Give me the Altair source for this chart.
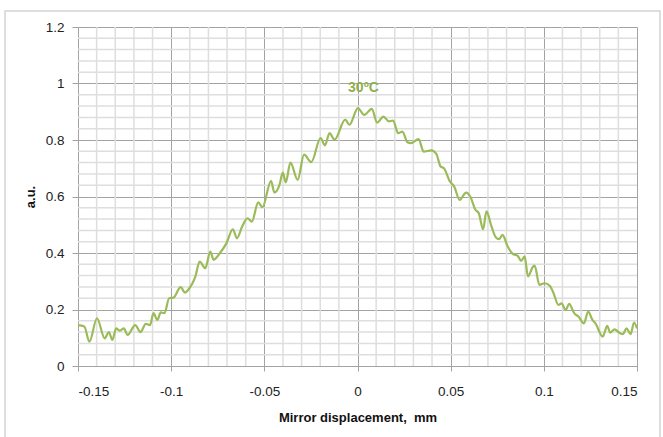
import altair as alt
import pandas as pd

# Interferogram envelope: detector signal vs. mirror displacement
displacement_mm = [
    -0.1500, -0.1466, -0.1439, -0.1398, -0.1357, -0.1334, -0.1316, -0.1295,
    -0.1277, -0.1254, -0.1234, -0.1193, -0.1165, -0.1136, -0.1113, -0.1095,
    -0.1074, -0.1056, -0.1036, -0.1011, -0.0988, -0.0949, -0.0926, -0.0908,
    -0.0870, -0.0847, -0.0817, -0.0790, -0.0772, -0.0738, -0.0703, -0.0669,
    -0.0647, -0.0619, -0.0590, -0.0567, -0.0533, -0.0510, -0.0464, -0.0446,
    -0.0419, -0.0401, -0.0385, -0.0360, -0.0321, -0.0287, -0.0248, -0.0198,
    -0.0175, -0.0150, -0.0123, -0.0066, -0.0043, 0.0002, 0.0036, 0.0077,
    0.0105, 0.0139, 0.0168, 0.0191, 0.0218, 0.0241, 0.0268, 0.0287,
    0.0328, 0.0355, 0.0396, 0.0423, 0.0446, 0.0464, 0.0496, 0.0519,
    0.0548, 0.0583, 0.0605, 0.0633, 0.0651, 0.0674, 0.0692, 0.0719,
    0.0742, 0.0760, 0.0778, 0.0806, 0.0833, 0.0860, 0.0878, 0.0897,
    0.0915, 0.0942, 0.0951, 0.0976, 0.1004, 0.1033, 0.1049, 0.1079,
    0.1095, 0.1117, 0.1136, 0.1163, 0.1186, 0.1215, 0.1238, 0.1261,
    0.1277, 0.1316, 0.1340, 0.1356, 0.1379, 0.1409, 0.1425, 0.1443,
    0.1466, 0.1484, 0.1500,
]
signal_au = [
    0.145, 0.140, 0.086, 0.169, 0.098, 0.120, 0.092, 0.133,
    0.125, 0.133, 0.110, 0.145, 0.120, 0.149, 0.145, 0.187,
    0.163, 0.190, 0.187, 0.240, 0.242, 0.279, 0.260, 0.270,
    0.317, 0.370, 0.346, 0.405, 0.376, 0.400, 0.435, 0.484,
    0.452, 0.494, 0.523, 0.511, 0.579, 0.562, 0.655, 0.614,
    0.640, 0.685, 0.650, 0.720, 0.659, 0.748, 0.722, 0.807,
    0.781, 0.824, 0.801, 0.872, 0.854, 0.913, 0.889, 0.910,
    0.862, 0.883, 0.866, 0.869, 0.824, 0.830, 0.792, 0.789,
    0.803, 0.759, 0.763, 0.751, 0.706, 0.700, 0.653, 0.635,
    0.588, 0.614, 0.600, 0.553, 0.541, 0.484, 0.547, 0.494,
    0.456, 0.449, 0.464, 0.423, 0.397, 0.390, 0.372, 0.388,
    0.317, 0.352, 0.355, 0.287, 0.293, 0.283, 0.263, 0.216,
    0.222, 0.198, 0.220, 0.187, 0.175, 0.151, 0.193, 0.163,
    0.151, 0.104, 0.142, 0.118, 0.130, 0.116, 0.113, 0.133,
    0.113, 0.154, 0.133,
]

series_label = ["30ºC"]
series_label_x = [0.0032]
series_label_y = [0.985]

x_major = [-0.15, -0.1, -0.05, 0, 0.05, 0.1, 0.15]
y_major = [0, 0.2, 0.4, 0.6, 0.8, 1, 1.2]
x_minor = [round(-0.15 + 0.01 * i, 2) for i in range(1, 30) if i % 5]
y_minor = [round(0.04 * i, 2) for i in range(1, 30) if i % 5]

GREEN = "#9bbb59"
MAJOR_GRID = "#a3a3a3"
MINOR_GRID = "#dedede"
FONT = "Liberation Sans"

x_scale = alt.Scale(domain=[-0.15, 0.15], nice=False, zero=False)
y_scale = alt.Scale(domain=[0, 1.2], nice=False)

x_axis = alt.Axis(
    values=x_major, labelExpr="toString(datum.value)",
    title="Mirror displacement,\u00a0 mm",
    titleX=279.5, titleY=51, titleBaseline="middle", titleAlign="center",
)
y_axis = alt.Axis(
    values=y_major, labelExpr="toString(datum.value)",
    title="a.u.",
    titleX=-48, titleY=169.5, titleAngle=-90,
    titleBaseline="middle", titleAlign="center",
)


def xpos(field):
    return alt.X(field, type="quantitative", scale=x_scale, axis=x_axis)


def ypos(field):
    return alt.Y(field, type="quantitative", scale=y_scale, axis=y_axis)


curve = pd.DataFrame({"x": displacement_mm, "y": signal_au})
label_df = pd.DataFrame({"x": series_label_x, "y": series_label_y, "t": series_label})

frame = alt.Chart(pd.DataFrame({"k": [0]})).mark_rect(
    fillOpacity=0, stroke="#d4d4d4", strokeWidth=1.5
).encode(
    x=alt.value(-73), x2=alt.value(582), y=alt.value(-16), y2=alt.value(420)
)

minor_x = alt.Chart(pd.DataFrame({"x": x_minor})).mark_rule(
    color=MINOR_GRID, strokeWidth=1.5
).encode(x=xpos("x"))

minor_y = alt.Chart(pd.DataFrame({"y": y_minor})).mark_rule(
    color=MINOR_GRID, strokeWidth=1.5
).encode(y=ypos("y"))

line = alt.Chart(curve).mark_line(
    color=GREEN, strokeWidth=2.2, interpolate="monotone"
).encode(x=xpos("x"), y=ypos("y"))

label = alt.Chart(label_df).mark_text(
    font=FONT, fontSize=14, fontWeight="bold", color="#8fb04f",
    align="center", baseline="middle"
).encode(x=xpos("x"), y=ypos("y"), text="t:N")

chart = alt.layer(frame, minor_x, minor_y, line, label).properties(
    width=559, height=339,
    autosize=alt.AutoSizeParams(type="none"),
    padding={"left": 78, "top": 27, "right": 26, "bottom": 71},
    background="white",
).configure_view(
    stroke=None
).configure_axis(
    grid=True, gridColor=MAJOR_GRID, gridWidth=1,
    domainColor=MAJOR_GRID, domainWidth=1,
    tickColor=MAJOR_GRID, tickSize=5,
    labelFont=FONT, labelFontSize=13.5, labelColor="#222222",
    titleFont=FONT, titleFontSize=13, titleFontWeight="bold", titleColor="#111111",
).configure_axisX(
    labelPadding=13
).configure_axisY(
    labelPadding=8, tickSize=6
)

chart.save("out.html", embed_options={"renderer": "svg", "actions": False})
